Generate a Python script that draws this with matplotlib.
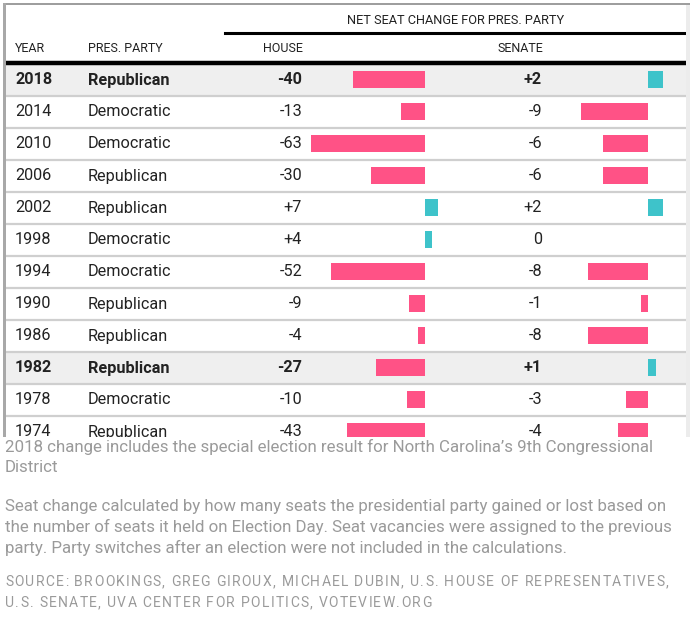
import numpy as np
import matplotlib.pyplot as plt
from matplotlib.patches import Rectangle
from matplotlib.font_manager import FontProperties
from matplotlib.textpath import TextToPath

plt.rcParams['font.family'] = ['Roboto', 'DejaVu Sans']

years = [2018, 2014, 2010, 2006, 2002, 1998, 1994, 1990, 1986, 1982, 1978, 1974]
parties = ['Republican', 'Democratic', 'Democratic', 'Republican', 'Republican', 'Democratic',
           'Democratic', 'Republican', 'Republican', 'Republican', 'Democratic', 'Republican']
house = [-40, -13, -63, -30, 7, 4, -52, -9, -4, -27, -10, -43]
senate = [2, -9, -6, -6, 2, 0, -8, -1, -8, 1, -3, -4]
bold_years = [2018, 1982]

note1 = ["2018 change includes the special election result for North Carolina\u2019s 9th Congressional",
         "District"]
note2 = ["Seat change calculated by how many seats the presidential party gained or lost based on",
         "the number of seats it held on Election Day. Seat vacancies were assigned to the previous",
         "party. Party switches after an election were not included in the calculations."]
source = ["SOURCE: BROOKINGS, GREG GIROUX, MICHAEL DUBIN, U.S. HOUSE OF REPRESENTATIVES,",
          "U.S. SENATE, UVA CENTER FOR POLITICS, VOTEVIEW.ORG"]

PINK = '#ff5286'
TEAL = '#3ec3ca'
INK = '#222222'
GREY = '#9a9a9a'
W, H = 699, 623


def fmt(v):
    if v > 0:
        return '+%d' % v
    if v == 0:
        return '0'
    return '-%d' % abs(v)


def px_axes(fig, x0, y0, x1, y1):
    # axes placed by pixel box (top-left origin)
    return fig.add_axes([x0 / W, 1 - y1 / H, (x1 - x0) / W, (y1 - y0) / H])


def tracked_text(ax, x, y, s, size, track, color):
    # letter-spaced caps, one glyph at a time
    prop = FontProperties(family='Roboto', size=size)
    ttp = TextToPath()
    for ch in s:
        if ch != ' ':
            ax.text(x, y, ch, ha='left', va='center', fontproperties=prop, color=color)
        w = ttp.get_text_width_height_descent(ch, prop, ismath=False)[0]
        x += w * 100 / 72 + track


fig = plt.figure(figsize=(W / 100, H / 100), dpi=100)
fig.patch.set_facecolor('white')

# full page in pixel coords, for frame and notes
page = px_axes(fig, 0, 0, W, H)
page.set_xlim(0, W)
page.set_ylim(H, 0)
page.axis('off')

# table area (clipped like a scroll box)
TX0, TX1, TY0, TY1 = 6, 686, 5, 437
tab = px_axes(fig, TX0, TY0, TX1, TY1)
tab.set_xlim(TX0, TX1)
tab.set_ylim(TY1, TY0)
tab.axis('off')

ROW0, ROWH = 64, 32
n = len(years)

for i, yr in enumerate(years):
    top = ROW0 + ROWH * i
    if yr in bold_years:
        tab.add_patch(Rectangle((TX0, top), TX1 - TX0, ROWH, color='#efefef', lw=0, zorder=0))
    tab.plot([TX0, TX1], [top + ROWH, top + ROWH], color='#cfcfcf', lw=1.6, zorder=1)
    yc = top + 16
    wt = 'bold' if yr in bold_years else 'normal'
    kw = dict(fontsize=11.7, color=INK, va='center', weight=wt, clip_on=True)
    tab.text(15, yc, str(yr), ha='left', **kw)
    tab.text(88, yc, parties[i], ha='left', **kw)
    tab.text(302, yc, fmt(house[i]), ha='right', **kw)
    tab.text(542, yc, fmt(senate[i]), ha='right', **kw)

# headers
tab.text(456, 20, 'NET SEAT CHANGE FOR PRES. PARTY', ha='center', va='center', fontsize=9.15, color=INK)
tab.plot([225, TX1], [33, 33], color='black', lw=2.2)
hk = dict(va='center', fontsize=9.0, color=INK)
tab.text(15, 48, 'YEAR', ha='left', **hk)
tab.text(88, 48, 'PRES. PARTY', ha='left', **hk)
tab.text(303, 48, 'HOUSE', ha='right', **hk)
tab.text(543, 48, 'SENATE', ha='right', **hk)
tab.plot([TX0, TX1], [63, 63], color='black', lw=3.2)

# bar columns, seat values on their own scales
rows = np.arange(n)
ylo = (TY1 - ROW0) / ROWH - 0.5


def bar_axes(x0, x1, zero_px, px_per_seat, vals):
    ax = px_axes(fig, x0, ROW0, x1, TY1)
    ax.set_xlim((x0 - zero_px) / px_per_seat, (x1 - zero_px) / px_per_seat)
    ax.set_ylim(ylo, -0.5)
    ax.axis('off')
    ax.patch.set_alpha(0)
    cols = [PINK if v < 0 else TEAL for v in vals]
    ax.barh(rows - 0.015, vals, height=0.53, color=cols, lw=0)
    return ax


bar_axes(300, 440, 425, 1.81, house)
bar_axes(570, 680, 648, 7.5, senate)

# scroll-box frame
page.add_patch(Rectangle((3, 3), 687, 2.2, color='#9e9e9e', lw=0))
page.add_patch(Rectangle((3, 3), 3, TY1 - 3, color='#a8a8a8', lw=0))
page.add_patch(Rectangle((686, 5), 4, TY1 - 5, color='#ececec', lw=0))

# notes
nk = dict(ha='left', va='center', fontsize=12.15, color=GREY)
for j, s in enumerate(note1):
    page.text(5, 447 + 21 * j, s, **nk)
for j, s in enumerate(note2):
    page.text(5, 506 + 21 * j, s, **nk)
for j, s in enumerate(source):
    tracked_text(page, 5, 582 + 21 * j, s, 10.0, 1.27, GREY)

fig.savefig('out.png', dpi=100)
